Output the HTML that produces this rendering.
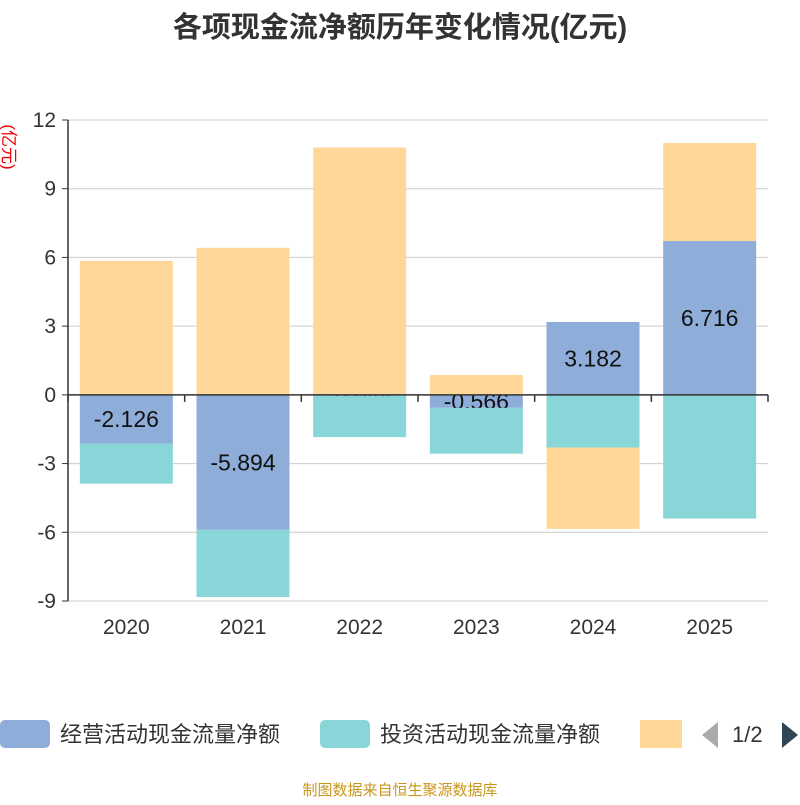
<!DOCTYPE html>
<html><head><meta charset="utf-8"><style>
body{margin:0;background:#fff;width:800px;height:800px;overflow:hidden;font-family:"Liberation Sans","Noto Sans CJK SC",sans-serif}
</style></head><body>
<svg id="c" width="800" height="800" xmlns="http://www.w3.org/2000/svg">
<text x="400" y="37" text-anchor="middle" font-size="29" font-weight="bold" fill="#333" font-family="Liberation Sans,Noto Sans CJK SC,sans-serif">各项现金流净额历年变化情况(亿元)</text>
<text transform="translate(3,147) rotate(90)" text-anchor="middle" font-size="17" fill="#e00" font-family="Liberation Sans,Noto Sans CJK SC,sans-serif">(亿元)</text>
<g id="grid"></g><g id="bars"></g><g id="axes"></g>
<g font-size="22" fill="#333" font-family="Liberation Sans,Noto Sans CJK SC,sans-serif">
<rect x="0" y="720" width="50" height="28" rx="5" fill="#8eaed9"/>
<text x="60" y="742">经营活动现金流量净额</text>
<rect x="320" y="720" width="50" height="28" rx="5" fill="#88d6d8"/>
<text x="380" y="742">投资活动现金流量净额</text>
<rect x="640" y="720" width="42" height="28" fill="#ffd899"/>
<polygon points="718,722 718,748 702,735" fill="#aaa"/>
<text x="732" y="742">1/2</text>
<polygon points="782,722 782,748 798,735" fill="#2f4554"/>
</g>
<text x="400" y="795" text-anchor="middle" font-size="15" fill="#c8961e" font-family="Liberation Sans,Noto Sans CJK SC,sans-serif">制图数据来自恒生聚源数据库</text>
</svg>
<script>
const categories=["2020","2021","2022","2023","2024","2025"];
const operating=[-2.126,-5.894,-0.044,-0.566,3.182,6.716];
const investing=[-1.75,-2.93,-1.8,-2.0,-2.3,-5.4];
const financing=[5.85,6.42,10.8,0.87,-3.55,4.28];
const yTicks=[-9,-6,-3,0,3,6,9,12];
const NS="http://www.w3.org/2000/svg";
const L=68,R=768,T=120,B=601,yMin=-9,yMax=12;
const y=v=>T+(yMax-v)/(yMax-yMin)*(B-T);
const bw=(R-L)/categories.length;
const x=i=>L+bw*i+bw/2;
function mk(p,tag,a){const e=document.createElementNS(NS,tag);for(const k in a)e.setAttribute(k,a[k]);p.appendChild(e);return e;}
const grid=document.getElementById('grid'),bars=document.getElementById('bars'),axes=document.getElementById('axes');
yTicks.forEach(t=>{
 if(t!==0){const g=mk(grid,'line',{x1:L,x2:R,y1:y(t),y2:y(t),stroke:'#ccc','stroke-width':1});
 
 }
 const tl=mk(axes,'line',{x1:L-6,x2:L,y1:y(t),y2:y(t),stroke:'#333'});
 
 
 const tx=mk(axes,'text',{x:L-12,y:y(t)+7,'text-anchor':'end','font-size':21,fill:'#333'});
 tx.textContent=t;
 
 
});
const series=[[operating,'#8eaed9','operating'],[investing,'#88d6d8','investing'],[financing,'#ffd899','financing']];
const pos=categories.map(()=>0),neg=categories.map(()=>0);
series.forEach(([vals,col,nm],si)=>{
 vals.forEach((v,i)=>{
  let a,b;
  if(v>=0){a=pos[i];b=a+v;pos[i]=b;}else{a=neg[i];b=a+v;neg[i]=b;}
  const y1=Math.min(y(a),y(b)),h=Math.abs(y(a)-y(b));
  const r=mk(bars,'rect',{x:x(i)-46.5,y:y1,width:93,height:h,fill:col});
  
  
  if(si===0){const t=mk(bars,'text',{x:x(i),y:y1+h/2+8,'text-anchor':'middle','font-size':23,fill:'#111'});
   t.textContent=v.toFixed(3);
   
   }
 });
});
const ax=mk(axes,'line',{x1:L,x2:L,y1:T,y2:B,stroke:'#333','stroke-width':1.5});


const xa=mk(axes,'line',{x1:L,x2:R,y1:y(0),y2:y(0),stroke:'#333','stroke-width':1.5});


for(let i=0;i<=categories.length;i++){const t=mk(axes,'line',{x1:L+bw*i,x2:L+bw*i,y1:y(0),y2:y(0)+7,stroke:'#333','stroke-width':1.5});
 
 }
categories.forEach((c,i)=>{const t=mk(axes,'text',{x:x(i),y:634,'text-anchor':'middle','font-size':21,fill:'#333'});
 t.textContent=c;
 
 });
</script>
</body></html>
